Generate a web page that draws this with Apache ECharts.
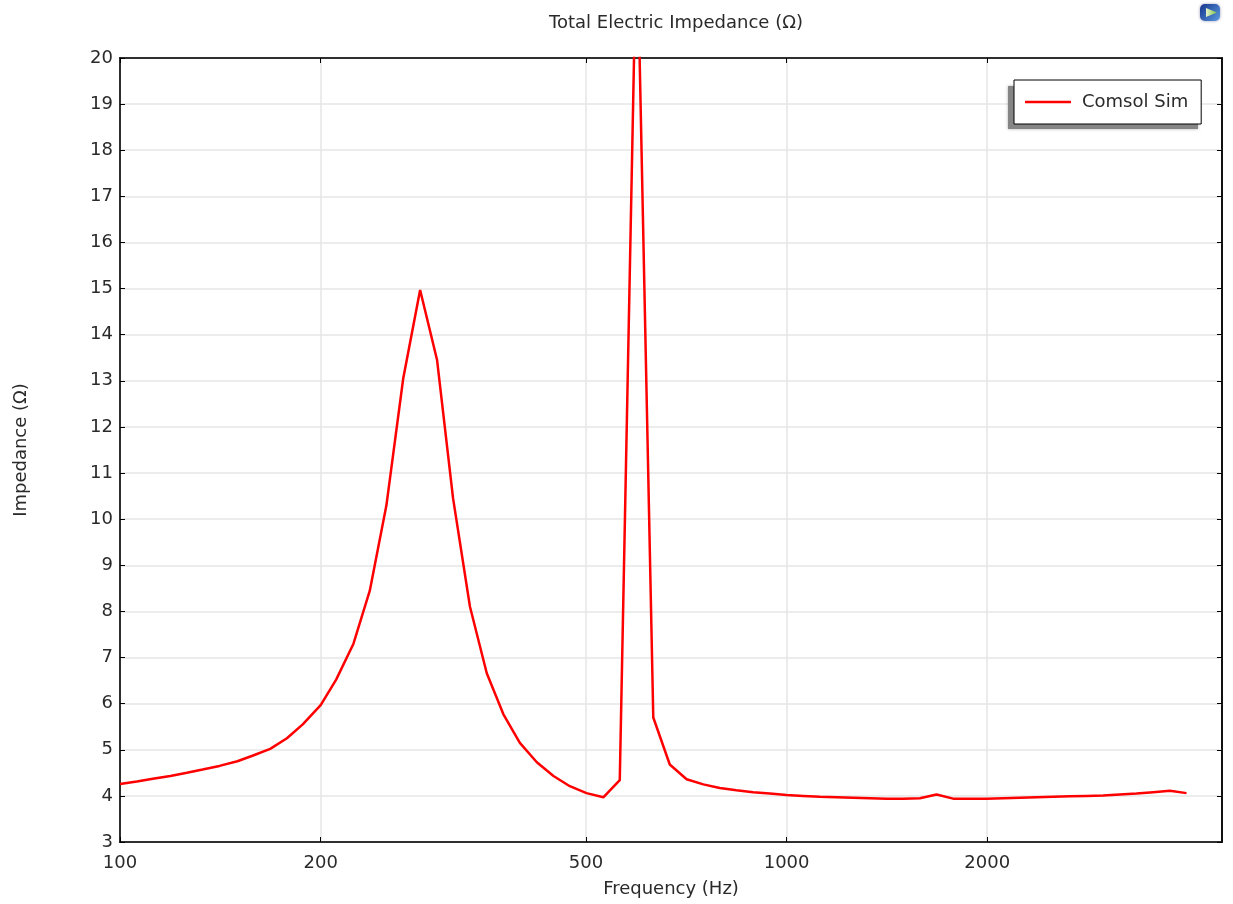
<!DOCTYPE html>
<html>
<head>
<meta charset="utf-8">
<script src="https://cdn.jsdelivr.net/npm/echarts@6/dist/echarts.min.js"></script>
<style>
html,body{margin:0;padding:0;background:#fff;}
#chart{width:1233px;height:904px;}
</style>
</head>
<body>
<div id="chart"></div>
<script>
// Frequency sweep (Hz)
const frequencies = [100, 106, 112, 119, 126, 133, 141, 150, 158, 168, 178, 188, 200, 211, 224, 237, 251, 266, 282, 299, 316, 335, 355, 376, 398, 422, 447, 473, 501, 531, 562, 596, 631, 668, 708, 750, 794, 841, 891, 944, 1000, 1059, 1122, 1189, 1259, 1334, 1413, 1496, 1585, 1679, 1778, 1884, 1995, 2113, 2239, 2371, 2512, 2661, 2818, 2985, 3162, 3350, 3548, 3758, 3981];
// Total electric impedance (Ohm)
const impedance = [4.26, 4.31, 4.37, 4.43, 4.50, 4.57, 4.65, 4.75, 4.87, 5.02, 5.25, 5.55, 5.97, 6.52, 7.3, 8.45, 10.3, 13.05, 14.97, 13.45, 10.45, 8.1, 6.66, 5.77, 5.15, 4.73, 4.43, 4.21, 4.06, 3.97, 4.34, 23, 5.7, 4.68, 4.36, 4.25, 4.17, 4.12, 4.08, 4.05, 4.02, 4.0, 3.98, 3.97, 3.96, 3.95, 3.94, 3.94, 3.95, 4.03, 3.94, 3.94, 3.94, 3.95, 3.96, 3.97, 3.98, 3.99, 4.0, 4.01, 4.03, 4.05, 4.08, 4.11, 4.06];
const xTickValues = [100, 200, 500, 1000, 2000];
const seriesName = 'Comsol Sim';

const FONT = 'DejaVu Sans';
const FS = 18;
const TXT = '#2a2a2a';
const data = frequencies.map((f, i) => [f, impedance[i]]);

const chart = echarts.init(document.getElementById('chart'), null, {renderer: 'canvas'});
const gridLine = {show: true, lineStyle: {color: '#e6e6e6', width: 1.5}};
const xBase = {
  type: 'log', logBase: 10, min: 100, max: 4500,
  axisTick: {show: true, inside: true, length: 5, lineStyle: {color: '#000'}, customValues: xTickValues},
  axisLine: {show: true, lineStyle: {color: '#000', width: 1.5}},
  minorTick: {show: false}, minorSplitLine: {show: false}
};
chart.setOption({
  animation: false,
  title: {
    text: 'Total Electric Impedance (Ω)', left: 671, top: 9, textAlign: 'center',
    textStyle: {fontFamily: FONT, fontSize: FS, fontWeight: 'normal', color: TXT}
  },
  legend: {
    left: 1014, top: 80, orient: 'vertical', z: 5,
    backgroundColor: '#fff', borderColor: '#000', borderWidth: 1,
    padding: [13, 13, 13, 11], itemWidth: 46, itemHeight: 2.5, itemGap: 0,
    icon: 'rect',
    textStyle: {fontFamily: FONT, fontSize: FS, color: TXT, padding: [0, 0, 0, 6]},
    data: [seriesName]
  },
  grid: {left: 120, right: 11, top: 58, bottom: 62, show: true, borderColor: '#000', borderWidth: 1.5, backgroundColor: 'transparent'},
  xAxis: [
    Object.assign({}, xBase, {
      position: 'bottom',
      name: 'Frequency (Hz)', nameLocation: 'middle', nameGap: 38,
      nameTextStyle: {fontFamily: FONT, fontSize: FS, color: TXT},
      axisLabel: {show: true, customValues: xTickValues, fontFamily: FONT, fontSize: FS, color: TXT, margin: 12,
                  formatter: v => String(Math.round(v))},
      splitLine: gridLine
    }),
    Object.assign({}, xBase, {
      position: 'top', axisLabel: {show: false}, splitLine: {show: false}
    })
  ],
  yAxis: [
    {
      type: 'value', min: 3, max: 20, interval: 1, position: 'left',
      name: 'Impedance (Ω)', nameLocation: 'middle', nameGap: 90, nameRotate: 90,
      nameTextStyle: {fontFamily: FONT, fontSize: FS, color: TXT},
      axisLabel: {fontFamily: FONT, fontSize: FS, color: TXT, margin: 7},
      axisTick: {show: true, inside: true, length: 5, lineStyle: {color: '#000'}},
      axisLine: {show: true, lineStyle: {color: '#000', width: 1.5}},
      splitLine: gridLine
    },
    {
      type: 'value', min: 3, max: 20, interval: 1, position: 'right',
      axisLabel: {show: false},
      axisTick: {show: true, inside: true, length: 5, lineStyle: {color: '#000'}},
      axisLine: {show: true, lineStyle: {color: '#000', width: 1.5}},
      splitLine: {show: false}
    }
  ],
  graphic: [
    {type: 'rect', z: 3, left: 1008, top: 86, shape: {width: 190, height: 43},
     style: {fill: '#858585', shadowBlur: 3, shadowColor: 'rgba(0,0,0,0.3)'}},
    {type: 'rect', left: 1200, top: 4, shape: {width: 20, height: 17, r: 5},
     style: {fill: new echarts.graphic.LinearGradient(0, 0, 1, 1, [{offset: 0, color: '#16358c'}, {offset: 1, color: '#5b9be0'}]), shadowBlur: 3, shadowColor: 'rgba(0,0,80,0.4)'}},
    {type: 'polygon', shape: {points: [[1206, 8], [1217, 12.5], [1206, 17]]},
     style: {fill: new echarts.graphic.LinearGradient(0, 0, 1, 0, [{offset: 0, color: '#e8f4d0'}, {offset: 1, color: '#7cc242'}])}}
  ],
  series: [{
    name: seriesName, type: 'line', xAxisIndex: 0, yAxisIndex: 0,
    data: data, showSymbol: false, symbol: 'none', clip: true,
    lineStyle: {color: '#ff0000', width: 2.5},
    itemStyle: {color: '#ff0000'}
  }]
});
</script>
</body>
</html>
